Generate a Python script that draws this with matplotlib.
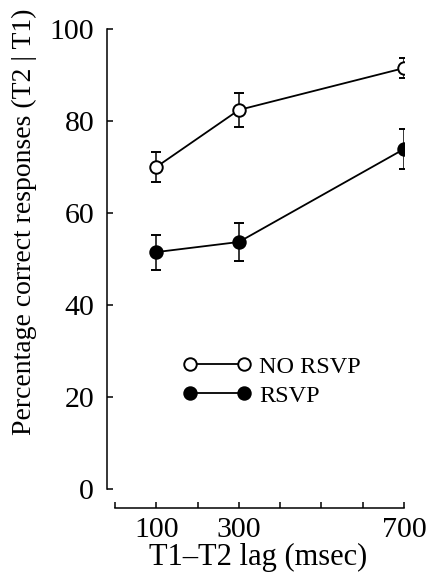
import matplotlib
matplotlib.use('Agg')
import matplotlib.pyplot as plt
from matplotlib.lines import Line2D

# data
lags = [100, 300, 700]
no_rsvp = [70.0, 82.4, 91.5]
no_rsvp_err = [3.2, 3.7, 2.1]
rsvp = [51.5, 53.7, 73.9]
rsvp_err = [3.8, 4.2, 4.4]
xticks = [0, 100, 200, 300, 400, 500, 600, 700]
xticklabels = ['', '100', '', '300', '', '', '', '700']
yticks = [0, 20, 40, 60, 80, 100]
series_names = ['NO RSVP', 'RSVP']

plt.rcParams['font.family'] = ['Liberation Serif', 'DejaVu Serif']

W, H = 428, 583
fig = plt.figure(figsize=(W/100, H/100), dpi=100)
ax = fig.add_axes([115/W, (H-489)/H, 289/W, 460/H])

style = dict(color='black', lw=1.3, marker='o', ms=9, mec='black', mew=1.4)
ax.errorbar(lags, no_rsvp, yerr=no_rsvp_err, mfc='white',
        capsize=3.5, elinewidth=1.1, capthick=1.1, **style)
ax.errorbar(lags, rsvp, yerr=rsvp_err, mfc='black',
        capsize=3.5, elinewidth=1.1, capthick=1.1, **style)

ax.set_xlim(0, 700)
ax.set_ylim(0, 100)
ax.set_xticks(xticks)
ax.set_xticklabels(xticklabels)
ax.set_yticks(yticks)

for s in ['top', 'right']:
    ax.spines[s].set_visible(False)
ax.spines['left'].set_position(('outward', 6))
ax.spines['bottom'].set_position(('outward', 14))
for s in ['left', 'bottom']:
    ax.spines[s].set_linewidth(1.1)
ax.tick_params(axis='both', direction='in', length=4, width=1.1,
        labelsize=21.5)
ax.tick_params(axis='y', pad=9)
ax.tick_params(axis='x', pad=6)

ax.set_xlabel('T1\u2013T2 lag (msec)', fontsize=22)
ax.xaxis.set_label_coords(0.495, -0.118)
ax.set_ylabel('Percentage correct responses (T2 | T1)', fontsize=20)
ax.yaxis.set_label_coords(-0.27, 0.58)

handles = [Line2D([], [], mfc='white', **style),
           Line2D([], [], mfc='black', **style)]
ax.legend(handles, series_names, loc='upper left', bbox_to_anchor=(0.236, 0.29),
        frameon=False, fontsize=17.5, numpoints=2, handlelength=2.8,
        handletextpad=0.33, borderpad=0, borderaxespad=0, labelspacing=0.3)

fig.savefig('out.png', dpi=100)
